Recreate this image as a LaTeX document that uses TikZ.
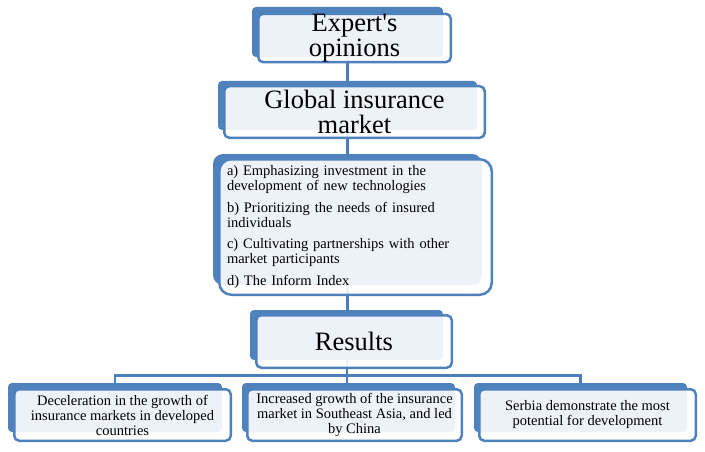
\documentclass[tikz,border=0pt]{standalone}
\usepackage{fontspec}
\setmainfont{Liberation Serif}
\usepackage{tikz}
\usetikzlibrary{calc}
\definecolor{boxblue}{HTML}{4F81BD}
\definecolor{linkblue}{HTML}{4A7EBB}

\begin{document}
\begin{tikzpicture}[x=1pt, y=-1pt,
    back/.style={fill=boxblue, rounded corners=4pt, inner sep=0pt},
    front/.style={draw=boxblue, line width=2.5pt, fill=white, fill opacity=0.9,
        text opacity=1, rounded corners=5pt, inner sep=0pt, align=center},
    big/.style={font=\fontsize{26.5}{25.5}\selectfont},
    small/.style={font=\fontsize{14.5}{15}\selectfont},
    link/.style={draw=linkblue, line width=2.5pt}]
    \useasboundingbox (0,0) rectangle (705,452);
    %% Back plates
    \node[back, minimum width=191pt, minimum height=50pt] (exp) at (347.5,32) {};
    \node[back, minimum width=259pt, minimum height=49pt] (glob) at (347.5,105.5) {};
    \node[back, rounded corners=10pt, minimum width=269pt, minimum height=131pt] (opts) at (347.5,219.5) {};
    \node[back, minimum width=193pt, minimum height=50pt] (res) at (346.5,335) {};
    \node[back, minimum width=214pt, minimum height=49pt] (dev) at (115,407.5) {};
    \node[back, minimum width=213pt, minimum height=49pt] (asia) at (348.5,407.5) {};
    \node[back, minimum width=213pt, minimum height=49pt] (serb) at (580.5,407.5) {};
    %% Links
    \draw[link] (exp) -- (glob);
    \draw[link] (glob) -- (opts);
    \draw[link] (opts.south) -- (opts.south |- res.north);
    \coordinate (bus) at (347,375.5);
    \draw[link] (res.south -| bus) -- (bus);
    \draw[link] (dev.north) |- (bus) -| (serb.north);
    \draw[link] (bus) -- (bus |- asia.north);
    %% Front boxes
    \node[front, big, minimum width=192.5pt, minimum height=47.5pt] (expF) at (354.5,38)
        {Expert\textquotesingle s\\opinions};
    \node[front, big, minimum width=260.5pt, minimum height=51.5pt] (globF) at (354.5,112)
        {Global insurance\\market};
    \node[front, small, rounded corners=12pt, minimum width=272.5pt, minimum height=135.5pt,
        text width=257pt, align=left] (optsF) at (355.5,227)
        {a) Emphasizing investment in the\\development of new technologies\\[6.5pt]
         b) Prioritizing the needs of insured\\individuals\\[6.5pt]
         c) Cultivating partnerships with other\\market participants\\[6.5pt]
         d) The Inform Index};
    \node[front, big, minimum width=195.5pt, minimum height=52.5pt] (resF) at (354,341.5) {Results};
    \node[front, small, minimum width=216.5pt, minimum height=51.5pt] (devF) at (122.5,415)
        {Deceleration in the growth of\\insurance markets in developed\\countries};
    \node[front, small, minimum width=214.5pt, minimum height=51.5pt] (asiaF) at (354.5,415)
        {Increased growth of the insurance\\market in Southeast Asia, and led\\by China};
    \node[front, small, minimum width=216.5pt, minimum height=51.5pt] (serbF) at (587.5,415)
        {Serbia demonstrate the most\\potential for development};
\end{tikzpicture}
\end{document}
